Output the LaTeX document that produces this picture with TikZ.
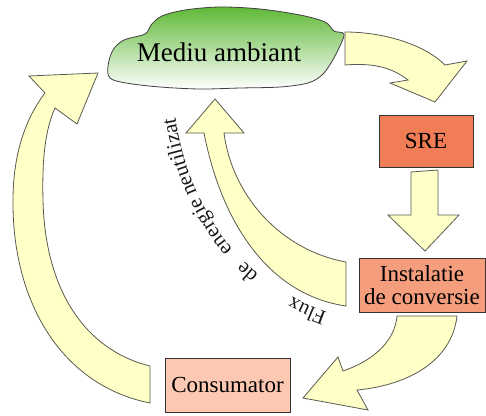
\documentclass[tikz,border=0pt]{standalone}
\usepackage{fontspec}
\setmainfont{Liberation Serif}
\usetikzlibrary{decorations.text}
\definecolor{arrowfill}{RGB}{255,255,200}
\definecolor{arrowline}{RGB}{90,90,80}
\definecolor{srefill}{RGB}{240,125,85}
\definecolor{instfill}{RGB}{245,158,125}
\definecolor{consfill}{RGB}{252,200,178}
\definecolor{cloudgreen}{RGB}{95,185,55}
\newcommand\fluxfont{\rmfamily\fontsize{21}{21}\selectfont}
\begin{document}
\begin{tikzpicture}[x=1pt,y=-1pt,
  blockarrow/.style={fill=arrowfill,draw=arrowline,line width=0.8pt,line join=miter},
  box/.style={draw=black!80,line width=1pt,inner sep=0pt,align=center,font=\rmfamily\fontsize{23}{23}\selectfont},
  fluxpath/.style={decorate,decoration={text along path,text color=black!90,text={#1}}}
]
\useasboundingbox (0,0) rectangle (486,415);

% cloud
\draw[draw=black!75,line width=0.8pt,top color=cloudgreen,bottom color=white]
  plot[smooth cycle,tension=0.55] coordinates {
  (110,78) (108,66) (113,50) (124,40) (145,34) (151,25) (162,16) (185,10) (220,7)
  (260,9) (300,15) (325,22) (334,31) (344,34) (339,48) (331,63) (322,75) (308,83)
  (280,87) (240,88) (200,89) (160,87) (126,83)};
\node[font=\rmfamily\fontsize{27}{27}\selectfont] (mediu) at (219,52) {Mediu ambiant};

% boxes
\node[box,fill=srefill,minimum width=94pt,minimum height=52pt] (sre) at (426,141) {SRE};
\node[box,fill=instfill,minimum width=126pt,minimum height=54pt] (inst) at (422,285) {Instalatie\\de conversie};
\node[box,fill=consfill,minimum width=125pt,minimum height=54pt] (cons) at (227.5,385) {Consumator};

% top-right arrow (Mediu -> SRE)
\draw[blockarrow] (345,32) .. controls (385,32) and (425,45) .. (445,65) -- (467,61) -- (435,102)
  -- (390,83) -- (408,80) .. controls (390,66) and (370,63) .. (345,65) -- cycle;

% down arrow (SRE -> Instalatie)
\draw[blockarrow] (411,172) -- (438,170) -- (438,215) -- (459,215) -- (425,251) -- (388,215) -- (411,215) -- cycle;

% Instalatie -> Consumator
\draw[blockarrow] (397,316) -- (457,316) .. controls (452,360) and (410,385) .. (357,390)
  -- (368,410) -- (303,398) -- (338,357) -- (343,371) .. controls (375,360) and (395,340) .. (397,316) -- cycle;

% Consumator -> Mediu (left big arrow)
\draw[blockarrow] (150,403) .. controls (60,385) and (12,300) .. (13,200)
  .. controls (13,150) and (28,115) .. (45,93) -- (29,76) -- (98,73) -- (77,124) -- (55,108)
  .. controls (45,130) and (42,160) .. (43,200) .. controls (45,290) and (85,350) .. (150,366) -- cycle;

% middle arrow (Flux de energie neutilizat)
\draw[blockarrow] (346,262) -- (346,306) .. controls (270,295) and (222,225) .. (204,133)
  -- (186,133) -- (215,99) -- (244,133) -- (224,133) .. controls (232,195) and (280,250) .. (346,262) -- cycle;

% curved label
\path[fluxpath={|\fluxfont|Flux},decoration={text align={left indent=5pt}}]
  (332,314) .. controls (265,292) and (190,235) .. (174,108);
\path[fluxpath={|\fluxfont|de},decoration={text align={left indent=84pt}}]
  (332,314) .. controls (265,292) and (190,235) .. (174,108);
\path[fluxpath={|\fluxfont|energie neutilizat},decoration={text align={left indent=120pt}}]
  (332,314) .. controls (265,292) and (190,235) .. (174,108);
\end{tikzpicture}
\end{document}
